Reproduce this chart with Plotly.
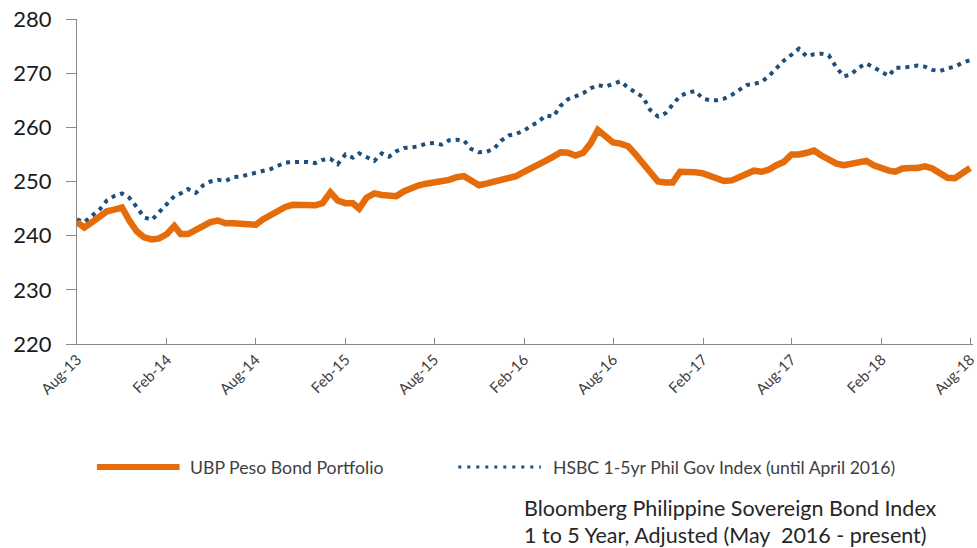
import pandas as pd
import plotly.graph_objects as go

# Half-monthly observation dates (1st and 16th), Aug 2013 - Aug 2018
dates = []
for d in pd.date_range("2013-08-01", "2018-07-01", freq="MS"):
    dates.append(d.strftime("%Y-%m-%d"))
    dates.append((d + pd.Timedelta(days=15)).strftime("%Y-%m-%d"))
dates.append("2018-08-01")

ubp = [
    242.5, 241.5, 242.5, 243.5, 244.5, 244.8, 245.2, 242.8, 240.8, 239.7,
    239.3, 239.5, 240.3, 241.8, 240.3, 240.3, 241.0, 241.8, 242.5, 242.8,
    242.3, 242.3, 242.2, 242.1, 242.0, 243.0, 243.8, 244.5, 245.3, 245.7,
    245.7, 245.7, 245.6, 246.0, 248.0, 246.5, 246.0, 246.0, 245.0, 247.0,
    247.8, 247.5, 247.3, 247.3, 248.2, 248.8, 249.3, 249.6, 249.8, 250.0,
    250.3, 250.8, 251.0, 250.2, 249.3, 249.6, 249.9, 250.2, 250.5, 251.0,
    251.8, 252.6, 253.0, 253.8, 254.6, 255.4, 255.3, 254.8, 255.3, 257.0,
    259.5, 258.5, 257.2, 257.0, 256.5, 255.0, 253.3, 251.6, 250.0, 249.8,
    249.8, 251.8, 251.8, 251.7, 251.5, 251.0, 250.6, 250.1, 250.2, 250.8,
    251.5, 252.0, 251.8, 252.2, 253.0, 253.6, 255.0, 255.0, 255.3, 255.7,
    254.8, 254.0, 253.3, 253.0, 253.2, 253.4, 253.8, 253.0, 252.4, 252.0,
    251.8, 252.4, 252.5, 252.5, 252.8, 252.4, 251.5, 250.7, 250.6, 251.6,
    252.5,
]

hsbc = [
    243.0, 242.5, 243.7, 244.8, 246.5, 247.3, 247.8, 247.0, 245.3, 243.4,
    242.9, 244.3, 245.7, 247.3, 247.8, 248.6, 247.9, 249.3, 250.0, 250.3,
    250.1, 250.8, 250.9, 251.2, 251.6, 251.9, 252.3, 252.9, 253.5, 253.6,
    253.6, 253.6, 253.4, 254.0, 254.2, 253.2, 255.0, 254.4, 255.2, 254.5,
    253.8, 255.2, 254.6, 255.6, 256.2, 256.3, 256.5, 257.0, 257.1, 256.8,
    257.6, 257.7, 257.6, 256.0, 255.4, 255.5, 256.0, 257.5, 258.5, 258.8,
    259.4, 260.3, 261.0, 262.2, 262.0, 264.0, 265.2, 265.7, 266.3, 267.2,
    267.8, 267.5, 268.0, 268.5, 267.3, 266.5, 265.6, 263.2, 262.0, 262.6,
    264.3, 265.8, 266.4, 266.7, 265.3, 265.0, 265.0, 265.3, 266.0, 266.8,
    267.8, 268.0, 268.4, 269.5, 270.8, 272.3, 273.4, 274.5, 273.1, 273.5,
    273.6, 273.3, 271.0, 269.4, 269.8, 271.0, 271.8, 271.0, 270.3, 269.5,
    271.0, 271.0, 271.2, 271.4, 271.2, 270.6, 270.4, 270.9, 271.2, 271.9,
    272.4,
]

tick_dates = ["2013-08-01", "2014-02-01", "2014-08-01", "2015-02-01", "2015-08-01",
              "2016-02-01", "2016-08-01", "2017-02-01", "2017-08-01", "2018-02-01",
              "2018-08-01"]
tick_labels = ["Aug-13", "Feb-14", "Aug-14", "Feb-15", "Aug-15", "Feb-16",
               "Aug-16", "Feb-17", "Aug-17", "Feb-18", "Aug-18"]

name_ubp = "UBP Peso Bond Portfolio"
name_hsbc = "HSBC 1-5yr Phil Gov Index (until April 2016)"
note_lines = ["Bloomberg Philippine Sovereign Bond Index",
              "1 to 5 Year, Adjusted (May  2016 - present)"]

ORANGE = "#E46C0A"
BLUE = "#1F4E79"
AXIS = "#898989"
FONT = "Lato"

fig = go.Figure()
fig.add_trace(go.Scatter(x=dates, y=hsbc, mode="lines", name=name_hsbc,
                         line=dict(color=BLUE, width=4, dash="4px,5px")))
fig.add_trace(go.Scatter(x=dates, y=ubp, mode="lines", name=name_ubp,
                         line=dict(color=ORANGE, width=6.5)))

W, H = 977, 548
L, R, T, B = 77, 0, 19, 204
pw, ph = W - L - R, H - T - B


def px(x):
    return (x - L) / pw


def py(y):
    return (H - B - y) / ph


shapes = [
    dict(type="line", xref="paper", yref="paper", x0=px(97), x1=px(180), y0=py(467), y1=py(467),
         line=dict(color=ORANGE, width=6)),
    dict(type="line", xref="paper", yref="paper", x0=px(460), x1=px(543), y0=py(467), y1=py(467),
         line=dict(color=BLUE, width=3, dash="3px,6px")),
]
annotations = [
    dict(text=name_ubp, xref="paper", yref="paper", x=px(188), y=py(467), xanchor="left",
         yanchor="middle", showarrow=False, font=dict(family=FONT, size=17.7, color="#404040")),
    dict(text=name_hsbc, xref="paper", yref="paper", x=px(553), y=py(467), xanchor="left",
         yanchor="middle", showarrow=False, font=dict(family=FONT, size=17.6, color="#404040")),
    dict(text=note_lines[0], xref="paper", yref="paper", x=px(524), y=py(508), xanchor="left",
         yanchor="middle", showarrow=False, font=dict(family=FONT, size=21.5, color="#262626")),
    dict(text=note_lines[1], xref="paper", yref="paper", x=px(524), y=py(535), xanchor="left",
         yanchor="middle", showarrow=False, font=dict(family=FONT, size=21.5, color="#262626")),
]

fig.update_layout(
    width=W, height=H,
    margin=dict(l=L, r=R, t=T, b=B, pad=0),
    paper_bgcolor="white", plot_bgcolor="white",
    showlegend=False,
    shapes=shapes, annotations=annotations,
    xaxis=dict(type="date", range=["2013-08-01", "2018-08-07"],
               tickmode="array", tickvals=tick_dates, ticktext=tick_labels,
               tickangle=-45, ticks="inside", ticklen=6, tickcolor=AXIS,
               ticklabeloverflow="allow",
               showline=True, linecolor=AXIS, linewidth=1, showgrid=False, zeroline=False,
               tickfont=dict(family=FONT, size=15, color="#404040")),
    yaxis=dict(range=[220, 280], tickmode="linear", tick0=220, dtick=10,
               ticks="outside", ticklen=10, tickcolor=AXIS, ticklabelstandoff=10,
               showline=True, linecolor=AXIS, linewidth=1, showgrid=False, zeroline=False,
               tickfont=dict(family=FONT, size=22, color="#1a1a1a")),
)

fig.write_html("out.html", config={"displayModeBar": False},
               post_script="document.body.style.margin='0';document.body.style.overflow='hidden';")
